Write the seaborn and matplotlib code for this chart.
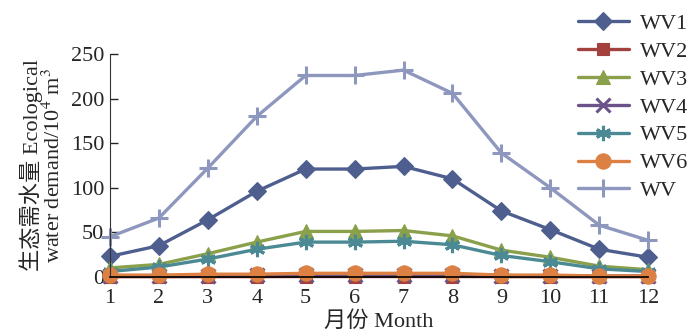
import numpy as np
import pandas as pd
import matplotlib
matplotlib.use("Agg")
import matplotlib.pyplot as plt
import seaborn as sns

# Data (10^4 m^3)
months = list(range(1, 13))
wv1 = [23, 35, 64, 96, 121, 121, 124, 110, 74, 53, 31, 22]
wv2 = [0.2, 0.2, 0.3, 0.3, 0.4, 0.4, 0.4, 0.4, 0.3, 0.2, 0.2, 0.2]
wv3 = [10, 14, 26, 39, 51, 51, 52, 46, 30, 22, 12, 8]
wv4 = [1, 1, 1.5, 2, 2.5, 2.5, 2.5, 2.5, 1.5, 1, 1, 1]
wv5 = [6, 11, 20, 31, 39, 39, 40, 36, 24, 17, 9, 6]
wv6 = [2, 2, 3, 3, 4, 4, 4, 4, 2, 2, 1, 1]
wv = [45, 66, 122, 180, 226, 226, 232, 206, 139, 100, 58, 41]

series = {"WV1": wv1, "WV2": wv2, "WV3": wv3, "WV4": wv4,
          "WV5": wv5, "WV6": wv6, "WV": wv}
colors = {"WV1": "#4e5f8f", "WV2": "#a3413e", "WV3": "#8aa04a",
          "WV4": "#6b5289", "WV5": "#4b8a95", "WV6": "#dc8143", "WV": "#8e97bd"}
markers = {"WV1": "D", "WV2": "s", "WV3": "^", "WV4": "x",
           "WV5": (6, 2, 0), "WV6": "o", "WV": "+"}
msizes = {"WV1": 9, "WV2": 9, "WV3": 10, "WV4": 10, "WV5": 11, "WV6": 11, "WV": 13}

sns.set_style("ticks")
plt.rcParams["font.family"] = ["Liberation Serif", "Noto Sans CJK SC"]
plt.rcParams["mathtext.fontset"] = "stix"
fs = 16

fig = plt.figure(figsize=(7, 3.36), dpi=100)
ax = fig.add_axes([0.157, 0.176, 0.769, 0.663])

for name, vals in series.items():
    df = pd.DataFrame({"month": months, "value": vals})
    sns.lineplot(data=df, x="month", y="value", ax=ax, color=colors[name],
                 linewidth=2.4, marker=markers[name], markersize=msizes[name],
                 markeredgecolor=colors[name], markerfacecolor=colors[name],
                 markeredgewidth=2.2 if name in ("WV4", "WV5", "WV") else 0.8,
                 label=name, clip_on=False)

ax.set_xlim(1, 12)
ax.set_ylim(0, 250)
ax.set_xticks(months)
ax.set_yticks([0, 50, 100, 150, 200, 250])
ax.tick_params(axis="y", direction="in", length=6, width=1, labelsize=fs, pad=4)
ax.tick_params(axis="x", length=0, labelsize=fs, pad=9)
sns.despine(ax=ax)
ax.spines["left"].set_color("#333333")
ax.spines["bottom"].set_color("black")
ax.spines["bottom"].set_linewidth(1.2)

ax.set_xlabel("月份 Month", fontsize=fs, labelpad=2)
ax.set_ylabel("生态需水量 Ecological\nwater demand/10$^4$ m$^3$",
              fontsize=fs, labelpad=4, linespacing=1.0)

ax.legend(loc="upper right", bbox_to_anchor=(1.012, 1.02),
          bbox_transform=fig.transFigure, frameon=False, fontsize=fs,
          handlelength=2.3, labelspacing=0.33, handletextpad=0.5)

fig.savefig("out.png", dpi=100)
